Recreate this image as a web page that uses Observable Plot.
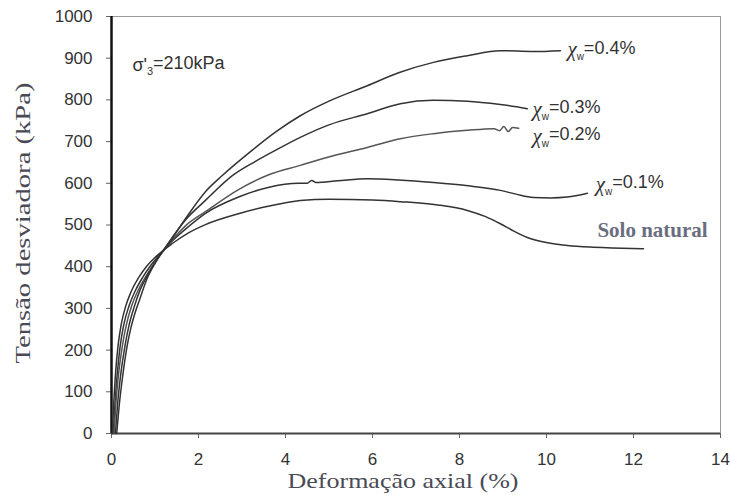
<!DOCTYPE html>
<html><head><meta charset="utf-8">
<script src="https://cdn.jsdelivr.net/npm/d3@7"></script>
<script src="https://cdn.jsdelivr.net/npm/@observablehq/plot@0.6"></script>
<style>body{margin:0;background:#fff} #chart svg{display:block}</style>
</head><body><div id="chart"></div>
<script>
const xTicks = [0, 2, 4, 6, 8, 10, 12, 14];
const yTicks = [0, 100, 200, 300, 400, 500, 600, 700, 800, 900, 1000];

const soloNatural = [[0.02,0],[0.05,70],[0.09,140],[0.15,210],[0.22,260],[0.32,303],[0.45,340],[0.63,375],[0.8,400],[1.01,423],[1.39,455],[1.75,480],[2.16,501],[2.92,527],[3.6,545],[4.34,559],[5,562],[6,560],[6.64,556],[7.5,548],[8.18,535],[8.6,520],[8.94,503],[9.2,488],[9.56,470],[10,458],[10.48,451],[11,447],[11.5,445],[12.23,443]];
const chi01 = [[0.04,0],[0.08,70],[0.13,140],[0.2,210],[0.28,260],[0.4,305],[0.55,343],[0.72,375],[0.9,403],[1.1,428],[1.4,462],[1.7,490],[2.16,528],[2.92,567],[3.6,590],[4.3,600],[4.5,600],[4.6,607],[4.7,602],[5.2,606],[5.88,611],[6.6,608],[7.4,602],[8.2,594],[8.94,583],[9.3,574],[9.7,566],[10.1,565],[10.48,567],[10.94,576]];
const chi02 = [[0.06,0],[0.1,70],[0.16,140],[0.25,210],[0.34,260],[0.46,305],[0.61,343],[0.78,375],[0.96,405],[1.15,432],[1.4,465],[1.7,498],[2.16,532],[2.92,585],[3.6,620],[4.34,643],[5.1,666],[5.88,686],[6.64,707],[7.4,719],[8.18,727],[8.79,731],[8.92,726],[9.02,736],[9.12,724],[9.22,734],[9.36,732]];
const chi03 = [[0.09,0],[0.14,70],[0.21,140],[0.31,210],[0.4,258],[0.52,303],[0.66,345],[0.82,378],[1.0,410],[1.2,440],[1.45,478],[1.7,512],[2.16,559],[2.8,620],[3.3,652],[3.77,679],[4.34,710],[5,740],[5.88,767],[6.64,791],[7.4,799],[8.18,797],[8.94,789],[9.56,779]];
const chi04 = [[0.12,0],[0.18,70],[0.26,140],[0.36,210],[0.45,255],[0.55,292],[0.65,322],[0.8,367],[1.09,423],[1.39,467],[1.7,515],[2.16,580],[2.54,618],[3.23,679],[3.8,725],[4.34,762],[5,797],[5.88,834],[6.6,865],[7.4,890],[8.18,906],[8.94,918],[9.7,916],[10.32,918]];

const seriesNames = ["Solo natural", "χw=0.1%", "χw=0.2%", "χw=0.3%", "χw=0.4%"];
const seriesData = [soloNatural, chi01, chi02, chi03, chi04];

// annotation anchors (data coordinates)
const labelNames = ["χw=0.4%", "χw=0.3%", "χw=0.2%", "χw=0.1%"];
const labelX = [10.48, 9.68, 9.68, 11.13];
const labelY = [918, 775, 710, 595];

const rows = seriesData.flatMap((pts, i) => pts.map(([x, y]) => ({series: seriesNames[i], x, y})));
const labels = labelNames.map((t, i) => ({t, x: labelX[i], y: labelY[i]}));

const plot = Plot.plot({
  width: 731, height: 500,
  marginLeft: 111, marginRight: 11, marginTop: 16, marginBottom: 67,
  style: {fontFamily: "Liberation Sans, Arial, sans-serif", background: "#fff", color: "#333"},
  x: {domain: [0, 14]},
  y: {domain: [0, 1000]},
  marks: [
    Plot.frame({stroke: "#999", strokeWidth: 1}),
    Plot.axisX({ticks: xTicks, tickSize: 5, tickPadding: 14, fontSize: 17, stroke: "#666", label: null, tickFormat: d => String(d)}),
    Plot.axisY({ticks: yTicks, tickSize: 5, tickPadding: 14, fontSize: 17, stroke: "#666", label: null, tickFormat: d => String(d)}),
    Plot.ruleY([0], {stroke: "#444", strokeWidth: 2}),
    Plot.ruleX([0], {stroke: "#111", strokeWidth: 2.5}),
    Plot.line(rows, {x: "x", y: "y", z: "series", curve: "monotone-x",
      stroke: d => d.series === "χw=0.2%" ? "#555" : "#333", strokeWidth: 1.5}),
    Plot.text(labels, {x: "x", y: "y", text: "t", textAnchor: "start", lineAnchor: "middle", fontSize: 18, fill: "#333"}),
    Plot.text(["σ'3=210kPa"], {x: [0.48], y: [882], text: d => d, textAnchor: "start", lineAnchor: "middle", fontSize: 18, fill: "#333"}),
    Plot.text(["Solo natural"], {x: [11.17], y: [487], text: d => d, textAnchor: "start", lineAnchor: "middle", fontSize: 21, fontWeight: "bold", fontFamily: "Liberation Serif, serif", fill: "#6a6e80"}),
    Plot.text(["Deformação axial (%)"], {frameAnchor: "bottom", dy: 48, dx: -13, lineAnchor: "middle", fontSize: 21, fontFamily: "Liberation Serif, serif", fill: "#4a4a55"}),
    Plot.text(["Tensão desviadora (kPa)"], {frameAnchor: "bottom-left", rotate: -90, textAnchor: "start", dx: -88, dy: -70, lineAnchor: "middle", fontSize: 21, fontFamily: "Liberation Serif, serif", fill: "#4a4a55"})
  ]
});

const svg = d3.select(plot);
svg.selectAll("text").each(function() {
  const el = d3.select(this);
  const s = this.textContent;
  if (s.startsWith("χw")) {
    el.text("");
    el.append("tspan").attr("font-style", "italic").attr("font-family", "Liberation Serif, serif").attr("font-size", "21").text("χ");
    el.append("tspan").attr("font-size", "10").attr("dy", "0.35em").text("w");
    el.append("tspan").attr("dy", "-0.35em").text(s.slice(2));
  } else if (s.startsWith("σ'3")) {
    el.text("");
    el.append("tspan").text("σ'");
    el.append("tspan").attr("font-size", "11").attr("dy", "0.35em").text("3");
    el.append("tspan").attr("dy", "-0.35em").text(s.slice(3));
  } else if (s === "Deformação axial (%)") {
    el.attr("textLength", 231).attr("lengthAdjust", "spacingAndGlyphs");
  } else if (s === "Tensão desviadora (kPa)") {
    el.attr("textLength", 281).attr("lengthAdjust", "spacingAndGlyphs");
  }
});
document.getElementById("chart").appendChild(plot);
</script>
</body></html>
